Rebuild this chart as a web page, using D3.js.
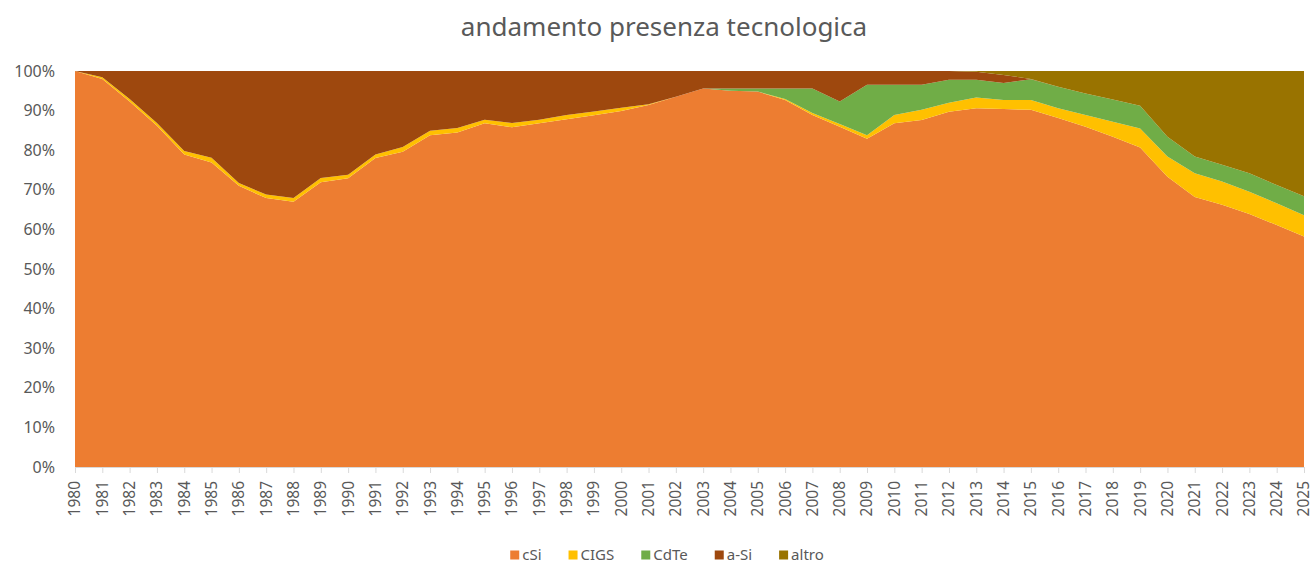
<!DOCTYPE html>
<html>
<head>
<meta charset="utf-8">
<script src="https://cdn.jsdelivr.net/npm/d3@7"></script>
<style>
    body { margin: 0; background: #fff; }
    text { font-family: "Noto Sans", "Open Sans", sans-serif; fill: #595959; }
</style>
</head>
<body>
<div id="chart"></div>
<script>
const years = d3.range(1980, 2026);

const series = ["cSi", "CIGS", "CdTe", "a-Si", "altro"];
const colors = ["#ED7D31", "#FFC000", "#70AD47", "#9E480E", "#997300"];

// quote in % per anno
const cSi = [100, 98.0, 92.3, 86.2, 78.9, 76.9, 71.0, 67.9, 67.0, 71.9,
    72.9, 78.0, 79.6, 83.8, 84.5, 86.8, 85.8, 86.8, 87.8, 88.8,
    89.9, 91.4, 93.5, 95.6, 95.0, 94.8, 92.7, 88.9, 85.9, 82.9,
    86.8, 87.6, 89.7, 90.6, 90.4, 90.2, 88.1, 85.9, 83.4, 80.7,
    73.3, 68.2, 66.2, 63.9, 61.1, 58.2];
const CIGS = [0, 0.4, 0.6, 0.7, 0.9, 1.2, 0.7, 0.9, 0.9, 1.1,
    0.9, 0.9, 1.2, 1.1, 1.1, 0.9, 1.1, 0.9, 1.1, 1.0,
    0.8, 0.2, 0, 0, 0, 0, 0.2, 0.5, 0.7, 0.9,
    2.1, 2.6, 2.3, 2.7, 2.3, 2.5, 2.5, 3.0, 3.8, 4.8,
    5.1, 6.0, 5.9, 5.6, 5.5, 5.4];
const CdTe = [0, 0, 0, 0, 0, 0, 0, 0, 0, 0,
    0, 0, 0, 0, 0, 0, 0, 0, 0, 0,
    0, 0, 0, 0, 0.6, 0.8, 2.7, 6.2, 5.7, 12.7,
    7.6, 6.3, 5.8, 4.5, 4.3, 5.2, 5.4, 5.4, 5.6, 5.7,
    5.0, 4.2, 4.2, 4.7, 4.6, 4.8];
const aSi = [0, 1.6, 7.1, 13.1, 20.2, 21.9, 28.3, 31.2, 32.1, 27.0,
    26.2, 21.1, 19.2, 15.1, 14.4, 12.3, 13.1, 12.3, 11.1, 10.2,
    9.3, 8.4, 6.5, 4.4, 4.4, 4.4, 4.4, 4.4, 7.7, 3.5,
    3.5, 3.5, 2.2, 2.0, 2.0, 0.1, 0, 0, 0, 0,
    0, 0, 0, 0, 0, 0];
const altro = [0, 0, 0, 0, 0, 0, 0, 0, 0, 0,
    0, 0, 0, 0, 0, 0, 0, 0, 0, 0,
    0, 0, 0, 0, 0, 0, 0, 0, 0, 0,
    0, 0, 0, 0.2, 1.0, 2.0, 4.0, 5.7, 7.2, 8.8,
    16.6, 21.6, 23.7, 25.8, 28.8, 31.6];

const yTicks = d3.range(0, 1.01, 0.1);

var W = 1314, H = 565;
var margin = {top: 71, right: 10, bottom: 98, left: 75},
    width = W - margin.left - margin.right,
    height = H - margin.top - margin.bottom;

var rows = years.map((y, i) => ({
    year: y, "cSi": cSi[i], "CIGS": CIGS[i], "CdTe": CdTe[i], "a-Si": aSi[i], "altro": altro[i]
}));

var svg = d3.select("#chart")
    .append("svg")
    .attr("width", W)
    .attr("height", H);

svg.append("text")
    .attr("x", 664)
    .attr("y", 36)
    .attr("text-anchor", "middle")
    .style("font-size", "26px")
    .text("andamento presenza tecnologica");

var g = svg.append("g")
    .attr("transform", "translate(" + margin.left + "," + margin.top + ")");

var x = d3.scaleLinear()
    .domain([1980, 2025])
    .range([0, width]);

var y = d3.scaleLinear()
    .domain([0, 1])
    .range([height, 0]);

var color = d3.scaleOrdinal().domain(series).range(colors);

var stacked = d3.stack()
    .keys(series)
    .offset(d3.stackOffsetExpand)(rows);

var area = d3.area()
    .x(d => x(d.data.year))
    .y0(d => y(d[0]))
    .y1(d => y(d[1]));

g.selectAll(".layer")
    .data(stacked)
    .enter()
    .append("path")
    .attr("class", "layer")
    .attr("d", area)
    .attr("fill", d => color(d.key));

// asse X
var xAxis = g.append("g")
    .attr("transform", "translate(0," + height + ")")
    .call(d3.axisBottom(x)
        .tickValues(years)
        .tickFormat(d3.format("d"))
        .tickSize(6)
        .tickPadding(8));
xAxis.select(".domain").attr("stroke", "#D9D9D9");
xAxis.selectAll(".tick line").attr("stroke", "#D9D9D9");
xAxis.selectAll("text")
    .attr("transform", "rotate(-90)")
    .attr("x", -14)
    .attr("y", 0)
    .attr("dy", "0.32em")
    .style("text-anchor", "end")
    .style("font-size", "15.5px")
    .attr("fill", "#595959");

// asse Y
var yAxis = g.append("g")
    .call(d3.axisLeft(y)
        .tickValues(yTicks)
        .tickFormat(d3.format(".0%"))
        .tickSize(0)
        .tickPadding(20));
yAxis.select(".domain").remove();
yAxis.selectAll("text")
    .style("font-size", "16px")
    .attr("fill", "#595959");

// legenda
var legend = svg.append("g").attr("class", "legend");
var lx = 0;
series.forEach(function(s, i) {
    var item = legend.append("g").attr("transform", "translate(" + lx + ",0)");
    item.append("rect")
        .attr("x", 0)
        .attr("y", -4.5)
        .attr("width", 9)
        .attr("height", 9)
        .attr("fill", colors[i]);
    var t = item.append("text")
        .attr("x", 12)
        .attr("y", 0)
        .attr("dy", "0.35em")
        .style("font-size", "15px")
        .text(s);
    lx += 12 + t.node().getComputedTextLength() + 27;
});
lx -= 27;
legend.attr("transform", "translate(" + (667 - lx / 2) + ",555)");
</script>
</body>
</html>
